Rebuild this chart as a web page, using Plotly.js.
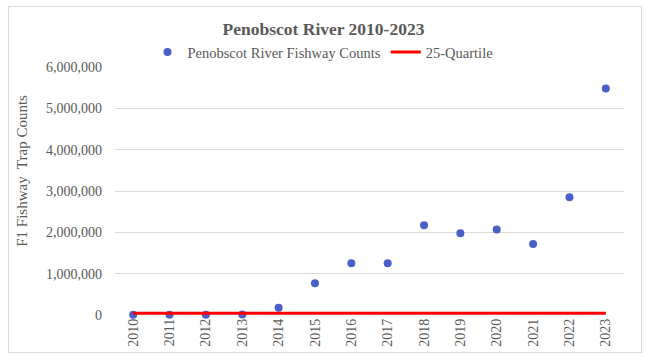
<!DOCTYPE html>
<html>
<head>
<meta charset="utf-8">
<script src="https://cdn.plot.ly/plotly-3.0.1.min.js"></script>
<style>
html,body{margin:0;padding:0;background:#fff;}
#wrap{position:relative;width:647px;height:356px;}
#chart{position:absolute;left:0;top:0;width:647px;height:356px;}
#frame{position:absolute;left:8px;top:6px;width:632px;height:345px;border:1px solid #d9d9d9;pointer-events:none;}
</style>
</head>
<body>
<div id="wrap"><div id="chart"></div><div id="frame"></div></div>
<script>
const years = ['2010','2011','2012','2013','2014','2015','2016','2017','2018','2019','2020','2021','2022','2023'];
const fishwayCounts = [5000, 8000, 6000, 10000, 174000, 770000, 1250000, 1250000, 2170000, 1980000, 2070000, 1720000, 2850000, 5480000];
const quartile25 = [40000, 40000, 40000, 40000, 40000, 40000, 40000, 40000, 40000, 40000, 40000, 40000, 40000, 40000];
const yTickVals = [0, 1000000, 2000000, 3000000, 4000000, 5000000, 6000000];
const yTickText = ['0', '1,000,000', '2,000,000', '3,000,000', '4,000,000', '5,000,000', '6,000,000'];

const serif = '"Liberation Serif", "Times New Roman", serif';
const grey = '#595959';

const traces = [
  {
    x: years, y: fishwayCounts, type: 'scatter', mode: 'markers',
    name: 'Penobscot River Fishway Counts',
    marker: {color: '#4a60c8', size: 8},
    cliponaxis: false
  },
  {
    x: years, y: quartile25, type: 'scatter', mode: 'lines',
    name: '25-Quartile',
    line: {color: '#ff0000', width: 3},
    cliponaxis: false
  }
];

const layout = {
  width: 647, height: 356,
  margin: {l: 115, r: 23, t: 67, b: 41, autoexpand: false},
  paper_bgcolor: '#ffffff', plot_bgcolor: '#ffffff',
  font: {family: serif, color: grey, size: 14},
  title: {text: '<b>Penobscot River 2010-2023</b>', x: 0.5, xref: 'container', xanchor: 'center',
          y: 0.92, yref: 'container', yanchor: 'middle', font: {family: serif, size: 17.5, color: grey}, automargin: false},
  showlegend: true,
  legend: {orientation: 'h', x: 0.4086, xanchor: 'center', y: 1.06, yanchor: 'middle',
           font: {family: serif, size: 14.5, color: grey}, bgcolor: 'rgba(0,0,0,0)', traceorder: 'normal',
           entrywidth: 0, itemwidth: 30},
  xaxis: {
    type: 'category', range: [-0.5, 13.5], showgrid: false, zeroline: false, showline: false,
    tickmode: 'array', tickvals: years, ticktext: years, automargin: false,
    tickangle: -90, tickfont: {family: serif, size: 14, color: grey}, ticks: '', fixedrange: true
  },
  yaxis: {
    range: [0, 6000000], tickmode: 'array', tickvals: yTickVals, ticktext: yTickText, automargin: false,
    showgrid: true, gridcolor: '#d9d9d9', gridwidth: 1, zeroline: false, showline: false,
    ticks: '', ticklabelstandoff: 12, tickfont: {family: serif, size: 14, color: grey}, fixedrange: true
  },
  annotations: [{
    text: 'F1 Fishway\u00a0 Trap Counts', textangle: -90, showarrow: false,
    xref: 'paper', yref: 'paper', x: -0.1827, y: 0.5815, xanchor: 'center', yanchor: 'middle',
    font: {family: serif, size: 15, color: grey}
  }]
};

Plotly.newPlot('chart', traces, layout, {displayModeBar: false, staticPlot: true});
</script>
</body>
</html>
